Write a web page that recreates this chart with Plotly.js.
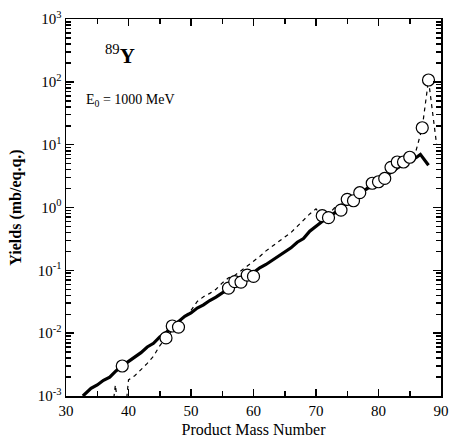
<!DOCTYPE html>
<html>
<head>
<meta charset="utf-8">
<script src="https://cdn.plot.ly/plotly-3.0.1.min.js"></script>
<style>html,body{margin:0;padding:0;background:#fff;}#chart{width:449px;height:440px;}</style>
</head>
<body>
<div id="chart"></div>
<script>
// Solid curve (calculation)
const solidMass = [32.7,33,34,35,36,37,38,39,40,41,42,43,44,45,46,47,48,49,50,51,52,53,54,55,56,57,58,59,60,61,62,63,64,65,66,67,68,69,70,71,72,73,74,75,76,77,78,79,80,81,82,83,84,85,86,86.7,88];
const solidYield = [0.0010,0.00107,0.00132,0.00150,0.00178,0.00200,0.00251,0.00302,0.00355,0.00427,0.00490,0.00603,0.00690,0.0087,0.0102,0.0126,0.0155,0.0186,0.0210,0.0251,0.0282,0.0331,0.0375,0.0437,0.049,0.060,0.067,0.081,0.092,0.110,0.124,0.145,0.170,0.200,0.228,0.280,0.320,0.420,0.50,0.60,0.72,0.82,1.00,1.15,1.40,1.62,1.95,2.25,2.63,3.05,3.6,4.2,5.0,5.6,6.2,7.0,4.7];

// Dashed curve (second calculation)
const dashMass = [37.5,37.9,38.3,null,39.6,40,41,42,43,44,45,46,47,48,49,50,51,52,53,54,55,56,57,58,59,60,61,62,63,64,65,66,67,68,69,70,71,72,73,74,75,76,77,78,79,80,81,82,83,84,85,86,87,88,89.3];
const dashYield = [0.0007,0.0015,0.0007,null,0.0007,0.0018,0.0021,0.0026,0.0033,0.0043,0.0063,0.0085,0.0112,0.0145,0.0186,0.023,0.032,0.038,0.043,0.050,0.063,0.076,0.083,0.100,0.117,0.140,0.166,0.204,0.240,0.280,0.330,0.400,0.500,0.630,0.790,0.950,0.720,0.780,1.00,1.12,1.35,1.55,1.78,2.00,2.40,2.65,3.10,4.00,5.00,5.60,6.60,8.00,18.6,107,10];

// Measured yields (open circles)
const expMass = [39,46,47,48,56,57,58,59,60,71,72,74,75,76,77,79,80,81,82,83,84,85,87,88];
const expYield = [0.0030,0.0084,0.013,0.0125,0.052,0.066,0.065,0.084,0.080,0.74,0.69,0.91,1.35,1.28,1.72,2.43,2.57,2.9,4.36,5.3,5.3,6.3,18.6,107];

// Axis tick labels
const yTickVals = [1e-3, 1e-2, 1e-1, 1, 10, 100, 1000];
const yTickText = ["10<sup>-3</sup>","10<sup>-2</sup>","10<sup>-1</sup>","10<sup>0</sup>","10<sup>1</sup>","10<sup>2</sup>","10<sup>3</sup>"];

const xTitle = "Product Mass Number";
const yTitle = "Yields (mb/eq.q.)";
const targetLabel = "<sup>89</sup><b>Y</b>";
const energyLabel = "E<sub>0</sub> = 1000 MeV";

const FONT = "'Liberation Serif', 'Times New Roman', serif";
const TICKC = "#000";

const traces = [
  {x: dashMass, y: dashYield, mode: "lines", connectgaps: false,
   line: {color: "#000", width: 1.2, dash: "4px,4px"}, hoverinfo: "skip"},
  {x: solidMass, y: solidYield, mode: "lines",
   line: {color: "#000", width: 3.2}, hoverinfo: "skip"},
  {x: expMass, y: expYield, mode: "markers",
   marker: {symbol: "circle", size: 12, color: "#fff", line: {color: "#000", width: 1.2}},
   cliponaxis: false},
  {x: [null], y: [null], xaxis: "x", yaxis: "y2", mode: "lines", hoverinfo: "skip", showlegend: false}
];

const layout = {
  width: 449, height: 440,
  margin: {l: 66, r: 8, t: 19, b: 44},
  paper_bgcolor: "#fff", plot_bgcolor: "rgba(0,0,0,0)",
  showlegend: false,
  font: {family: FONT, color: "#000", size: 14},
  xaxis: {
    range: [30, 90], dtick: 10, tick0: 30,
    ticks: "inside", ticklen: 7, tickwidth: 1.5, tickcolor: TICKC,
    minor: {dtick: 5, ticks: "inside", ticklen: 5, tickwidth: 1.5, tickcolor: TICKC},
    showline: true, linecolor: "#000", linewidth: 1.5, mirror: "ticks",
    showgrid: false, zeroline: false,
    tickfont: {family: FONT, size: 15},
    title: {text: xTitle, font: {family: FONT, size: 16}, standoff: 6}
  },
  yaxis: {
    type: "log", range: [-3, 3],
    tickmode: "array", tickvals: yTickVals, ticktext: yTickText,
    ticks: "", showline: true, linecolor: "#000", linewidth: 1.5, mirror: true,
    showgrid: false, zeroline: false,
    tickfont: {family: FONT, size: 15},
    title: {text: "<b>" + yTitle + "</b>", font: {family: FONT, size: 16}, standoff: 12}
  },
  yaxis2: {
    overlaying: "y", anchor: "x", side: "left",
    type: "log", range: [-3, 3], dtick: 1, showticklabels: false,
    ticks: "inside", ticklen: 8, tickwidth: 1.5, tickcolor: TICKC,
    minor: {dtick: "D1", ticks: "inside", ticklen: 5, tickwidth: 1.5, tickcolor: TICKC},
    showline: true, linecolor: "#000", linewidth: 1.5, mirror: "ticks",
    showgrid: false, zeroline: false
  },
  annotations: [
    {xref: "paper", yref: "paper", x: 0.145, y: 0.905, text: targetLabel, showarrow: false,
     font: {family: FONT, size: 21}, xanchor: "center", yanchor: "middle"},
    {xref: "paper", yref: "paper", x: 0.048, y: 0.785, text: energyLabel, showarrow: false,
     font: {family: FONT, size: 14}, xanchor: "left", yanchor: "middle"}
  ]
};

Plotly.newPlot("chart", traces, layout, {displayModeBar: false, staticPlot: true});
</script>
</body>
</html>
